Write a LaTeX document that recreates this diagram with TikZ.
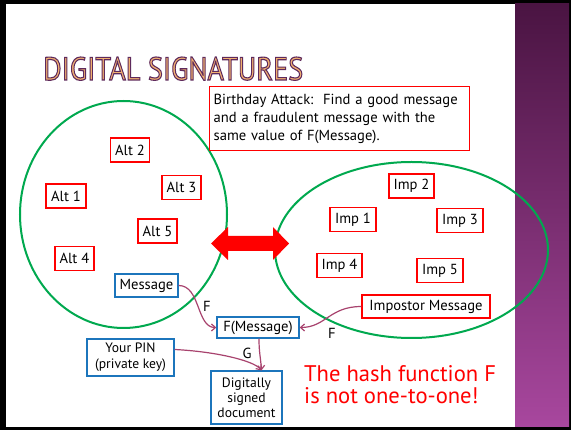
\documentclass[tikz,border=0pt]{standalone}
\usepackage{fontspec}
\setmainfont{PT Sans}
\usetikzlibrary{arrows.meta,calc}

\definecolor{boxred}{HTML}{FF0000}
\definecolor{boxblue}{HTML}{1C75BC}
\definecolor{setgreen}{HTML}{00A94F}
\definecolor{linkcol}{HTML}{A8436E}
\definecolor{titlefill}{HTML}{F2B070}
\definecolor{barTop}{HTML}{4A1442}
\definecolor{barBot}{HTML}{A8479E}

\tikzset{
  txt/.style={font=\fontsize{14.6}{18}\selectfont},
  redbox/.style={txt, draw=boxred, line width=1.3pt, fill=white, inner sep=0pt, minimum height=24pt},
  bluebox/.style={txt, draw=boxblue, line width=1.3pt, fill=white, inner sep=0pt, minimum height=23pt},
  setring/.style={draw=setgreen, line width=2pt},
  link/.style={draw=linkcol, line width=1.2pt, -{Straight Barb[length=4pt,width=7pt]}},
  lbl/.style={txt, inner sep=0pt},
  small/.style={font=\fontsize{13.6}{16}\selectfont},
  verdict/.style={inner sep=0pt, anchor=base west, text=boxred, font=\fontsize{22.6}{26}\selectfont}
}

% title letters: orange fill with a dark purple stroke (text render mode 2)
\newcommand{\ttltext}{%
  \special{pdf:literal direct 2 Tr 1.1 w 0.369 0.165 0.361 RG}%
  \resizebox{260pt}{23pt}{DIGITAL SIGNATURES}%
  \special{pdf:literal direct 0 Tr}}

\begin{document}
\begin{tikzpicture}[x=1pt,y=-1pt]
\useasboundingbox (0,0) rectangle (571,430);

% slide frame, white page and purple side bar
\fill[black] (0,0) rectangle (571,430);
\fill[white] (6,4) rectangle (515,427);
\shade[top color=barTop, bottom color=barBot] (515,4) rectangle (569,427);

% title
\node[inner sep=0pt, anchor=base west, text=titlefill,
      font=\fontsize{32}{32}\selectfont] (title) at (43,80) {\ttltext};

% the two message sets
\draw[setring] (123.5,214.5) ellipse [x radius=103.5, y radius=113.5];
\draw[setring] (411.5,250) ellipse [x radius=136.5, y radius=88];

% birthday attack note
\node[txt, draw=boxred, line width=1.3pt, fill=white, anchor=north west,
      text width=252pt, inner xsep=4pt, inner ysep=3pt, align=left,
      minimum height=64pt] (note) at (209,86)
  {Birthday Attack:\ \ Find a good message\\ and a fraudulent message with the\\ same value of F(Message).};

% alternative good messages
\node[redbox, minimum width=39pt] (alt2) at (130,150) {Alt 2};
\node[redbox, minimum width=40pt] (alt1) at (66,196) {Alt 1};
\node[redbox, minimum width=39pt] (alt3) at (181.5,187.5) {Alt 3};
\node[redbox, minimum width=39pt] (alt5) at (157.5,231) {Alt 5};
\node[redbox, minimum width=39pt] (alt4) at (74.5,258.5) {Alt 4};
\node[bluebox, minimum width=63pt] (msg) at (146.5,285.5) {Message};

% impostor messages
\node[redbox, minimum width=45pt] (imp2) at (411.5,186) {Imp 2};
\node[redbox, minimum width=46pt] (imp1) at (353,219.5) {Imp 1};
\node[redbox, minimum width=46pt] (imp3) at (460,220.5) {Imp 3};
\node[redbox, minimum width=45pt] (imp4) at (339.5,265.5) {Imp 4};
\node[redbox, minimum width=46pt] (imp5) at (440,270.5) {Imp 5};
\node[redbox, minimum width=128pt, minimum height=23pt] (impmsg) at (426,306.5) {Impostor Message};

% double arrow between the sets
\fill[boxred] (211,243.5) -- (228,227) -- (228,236) -- (273,236) -- (273,227)
  -- (289,243.5) -- (273,260) -- (273,251) -- (228,251) -- (228,260) -- cycle;

% hashing and signing
\node[bluebox, minimum width=82pt, minimum height=21pt] (fm) at (258,327.5) {F(Message)};
\node[bluebox, small, minimum width=87pt, minimum height=37pt, align=center]
  (pin) at (130.5,357.5) {Your PIN\\(private key)};
\node[bluebox, minimum width=71pt, minimum height=53pt, align=center,
      font=\fontsize{13.6}{15}\selectfont] (doc) at (246.5,397.5) {Digitally\\signed\\document};

\draw[link] (msg.east) .. controls +(22,0) and +(-20,0) .. (fm.west);
\draw[link] (impmsg.west) .. controls +(-32,0) and +(26,0) .. (fm.east);
\draw[link] ($(pin.east)+(0,-8)$) .. controls +(40,2) and +(-8,-10) .. ($(doc.north)+(15,0)$);
\draw[link] ($(fm.south)+(1,0)$) .. controls +(0,14) and +(-1,-14) .. ($(doc.north)+(15,0)$);

\node[lbl] (fA) at (207,306) {F};
\node[lbl] (fB) at (332,333) {F};
\node[lbl] (gl) at (247,353) {G};

% conclusion
\node[verdict] (res1) at (304,382) {The hash function F};
\node[verdict] (res2) at (304,404) {is not one-to-one!};
\end{tikzpicture}
\end{document}
